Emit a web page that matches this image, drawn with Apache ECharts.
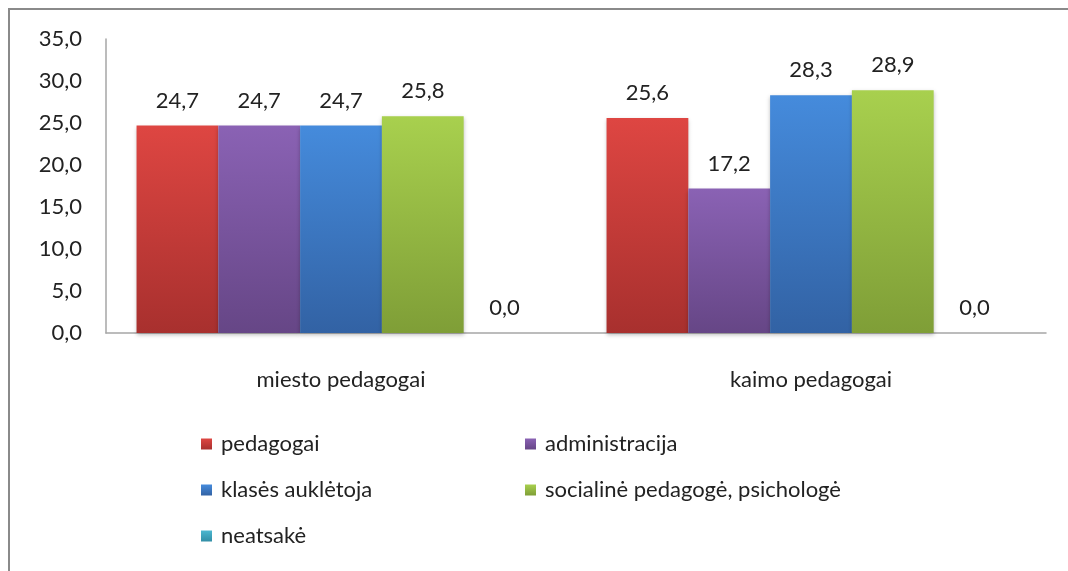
<!DOCTYPE html>
<html>
<head>
<meta charset="utf-8">
<script src="https://cdn.jsdelivr.net/npm/echarts@6/dist/echarts.min.js"></script>
<style>
  html, body { margin: 0; padding: 0; background: #fff; }
  #chart { width: 1068px; height: 571px; }
</style>
</head>
<body>
<div id="chart"></div>
<script>
const categories = ['miesto pedagogai', 'kaimo pedagogai'];
const seriesNames = ['pedagogai', 'administracija', 'klasės auklėtoja', 'socialinė pedagogė, psichologė', 'neatsakė'];
const pedagogai = [24.7, 25.6];
const administracija = [24.7, 17.2];
const klasesAukletoja = [24.7, 28.3];
const socialine = [25.8, 28.9];
const neatsake = [0.0, 0.0];
const yTicks = [0, 5, 10, 15, 20, 25, 30, 35];

const values = [pedagogai, administracija, klasesAukletoja, socialine, neatsake];
// top / bottom gradient colours per series
const colors = [
  ['#DE4642', '#A8302E'],
  ['#8A62B4', '#664686'],
  ['#458BDC', '#3262A4'],
  ['#A8D04E', '#7F9E37'],
  ['#4BB7D0', '#328EA6']
];

const font = 'Lato, "Open Sans", sans-serif';
const fmt = v => v.toFixed(1).replace('.', ',');

let myChart = echarts.init(document.getElementById('chart'));

let series = seriesNames.map((name, i) => ({
  name: name,
  type: 'bar',
  data: values[i],
  barGap: '0%',
  barCategoryGap: '13%',
  itemStyle: {
    color: new echarts.graphic.LinearGradient(0, 0, 0, 1, [
      { offset: 0, color: colors[i][0] },
      { offset: 1, color: colors[i][1] }
    ]),
    shadowColor: 'rgba(0,0,0,0.25)',
    shadowBlur: 4,
    shadowOffsetY: 2
  },
  label: {
    show: true,
    position: 'top',
    distance: 14,
    color: '#222',
    fontFamily: font,
    fontSize: 22,
    formatter: p => fmt(p.value)
  }
}));

let legendText = { fontFamily: font, fontSize: 22, color: '#222', padding: [0, 0, 0, 4] };

let option = {
  animation: false,
  backgroundColor: '#fff',
  graphic: [{
    type: 'rect',
    shape: { x: 9, y: 9, width: 1200, height: 700 },
    style: { fill: 'none', stroke: '#8a8a8a', lineWidth: 2 },
    silent: true
  }],
  grid: { left: 106, top: 39, right: 22, bottom: 238 },
  legend: [
    {
      orient: 'vertical',
      left: 196, top: 428,
      itemWidth: 11, itemHeight: 11, itemGap: 24,
      icon: 'rect',
      data: [seriesNames[0], seriesNames[2], seriesNames[4]],
      textStyle: legendText
    },
    {
      orient: 'vertical',
      left: 520, top: 428,
      itemWidth: 11, itemHeight: 11, itemGap: 24,
      icon: 'rect',
      data: [seriesNames[1], seriesNames[3]],
      textStyle: legendText
    }
  ],
  xAxis: {
    type: 'category',
    data: categories,
    axisLine: { lineStyle: { color: '#A6A6A6', width: 1.5 } },
    axisTick: { show: false },
    axisLabel: { margin: 36, color: '#222', fontFamily: font, fontSize: 22 }
  },
  yAxis: {
    type: 'value',
    min: yTicks[0],
    max: yTicks[yTicks.length - 1],
    interval: 5,
    axisLine: { show: true, lineStyle: { color: '#A6A6A6', width: 1.5 } },
    axisTick: { show: false },
    splitLine: { show: false },
    axisLabel: { margin: 24, color: '#222', fontFamily: font, fontSize: 22, formatter: v => fmt(v) }
  },
  series: series
};
myChart.setOption(option);
</script>
</body>
</html>
